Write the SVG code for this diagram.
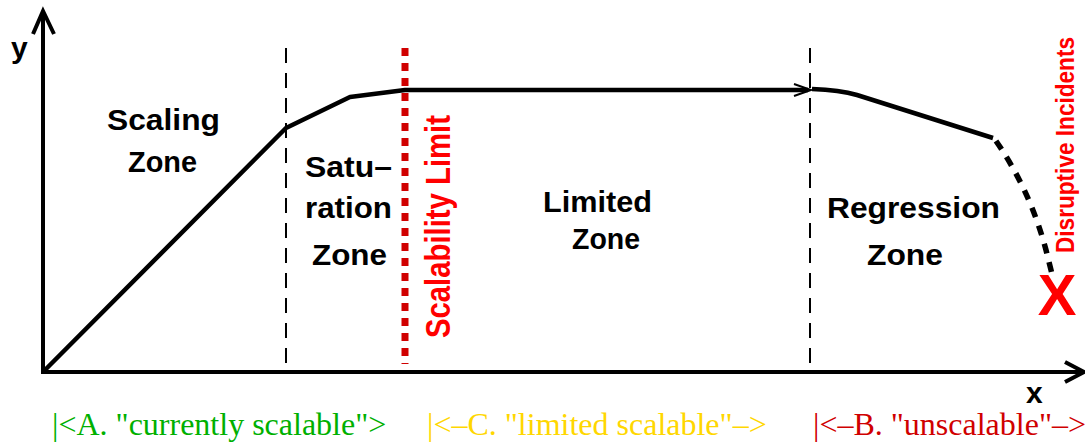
<svg xmlns="http://www.w3.org/2000/svg" width="1085" height="443" viewBox="0 0 1085 443">
<style>
.lbl{font-family:"Liberation Sans",Arial,sans-serif;font-weight:bold;font-size:30px;fill:#000;text-anchor:start}
.ax{stroke:#000;stroke-width:4;fill:none}
.cv{stroke:#000;stroke-width:4.5;fill:none;stroke-linejoin:round}
.dash{stroke:#000;stroke-width:2;stroke-dasharray:15 10;fill:none}
.btm{font-family:"Liberation Serif","Times New Roman",serif;font-size:32px}
</style>
<rect width="1085" height="443" fill="#fff"/>
<g id="axes">
<line class="ax" x1="43" y1="374" x2="43" y2="12"/>
<polyline class="ax" stroke-width="3" points="33,34 43,11 54,34"/>
<line class="ax" x1="41" y1="372" x2="1082" y2="372"/>
<polyline class="ax" stroke-width="3" points="1065,362 1084,372 1065,382"/>
<text class="lbl" x="11" y="58" font-size="26">y</text>
<text class="lbl" x="1026" y="403" font-size="26">x</text>
</g>
<g id="connectors">
<line class="dash" x1="286" y1="48" x2="286" y2="372"/>
<line class="dash" x1="810" y1="48" x2="810" y2="372"/>
<line x1="405" y1="48" x2="405" y2="364" stroke="#d00000" stroke-width="7" stroke-dasharray="8 7"/>
<polyline class="cv" points="43,372 286,128 350,97 405,90 808,90"/>
<polyline points="794,84 811,90 794,96" fill="none" stroke="#000" stroke-width="2"/>
<path class="cv" d="M812,89 Q840,90 857,95 L993,138"/>
<path d="M996,141 Q1030,190 1046,250 L1053,278" fill="none" stroke="#000" stroke-width="5.5" stroke-dasharray="10 9"/>
</g>
<g id="scaling-zone">
<text class="lbl" x="107" y="130" textLength="113" lengthAdjust="spacingAndGlyphs">Scaling</text>
<text class="lbl" x="128" y="172" textLength="69" lengthAdjust="spacingAndGlyphs">Zone</text>
</g>
<g id="saturation-zone">
<text class="lbl" x="305" y="177" textLength="87" lengthAdjust="spacingAndGlyphs">Satu–</text>
<text class="lbl" x="305" y="218" textLength="87" lengthAdjust="spacingAndGlyphs">ration</text>
<text class="lbl" x="312" y="265" textLength="75" lengthAdjust="spacingAndGlyphs">Zone</text>
</g>
<g id="scalability-limit">
<text transform="translate(450,338) scale(1.18,1) rotate(-90)" font-family="Liberation Sans,Arial,sans-serif" font-weight="bold" font-size="29" fill="#ff0000" textLength="223" lengthAdjust="spacingAndGlyphs">Scalability Limit</text>
</g>
<g id="limited-zone">
<text class="lbl" x="543" y="212" textLength="109" lengthAdjust="spacingAndGlyphs">Limited</text>
<text class="lbl" x="572" y="249" textLength="68" lengthAdjust="spacingAndGlyphs">Zone</text>
</g>
<g id="regression-zone">
<text class="lbl" x="827" y="218" textLength="173" lengthAdjust="spacingAndGlyphs">Regression</text>
<text class="lbl" x="867" y="265" textLength="76" lengthAdjust="spacingAndGlyphs">Zone</text>
</g>
<g id="disruptive-incidents">
<text transform="translate(1074,253) scale(1.12,1) rotate(-90)" font-family="Liberation Sans,Arial,sans-serif" font-weight="bold" font-size="23" fill="#ff0000" textLength="216" lengthAdjust="spacingAndGlyphs">Disruptive Incidents</text>
<text x="1057" y="315" text-anchor="middle" font-family="Liberation Sans,Arial,sans-serif" font-weight="bold" font-size="58" fill="#ff0000">X</text>
</g>
<g id="legend">
<text class="btm" x="52" y="435" fill="#00b000">|&lt;A. "currently scalable"&gt;</text>
<text class="btm" x="427" y="435" fill="#ffd700">|&lt;–C. "limited scalable"–&gt;</text>
<text class="btm" x="813" y="435" fill="#d00000">|&lt;–B. "unscalable"–&gt;</text>
</g>
</svg>
